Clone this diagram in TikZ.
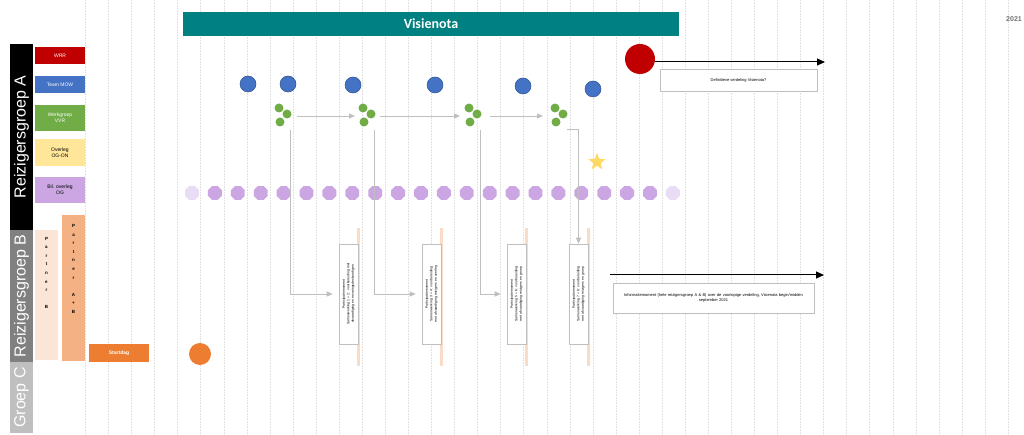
\documentclass[tikz,border=0pt]{standalone}
\usepackage{fontspec}
\setmainfont{Liberation Sans}
\newfontfamily\calibri{Carlito}
\usetikzlibrary{shapes.geometric,arrows.meta}
\definecolor{cRed}{HTML}{C00000}
\definecolor{cBlue}{HTML}{4472C4}
\definecolor{cBlueD}{HTML}{2F528F}
\definecolor{cGreen}{HTML}{70AD47}
\definecolor{cYellow}{HTML}{FFE699}
\definecolor{cPurple}{HTML}{CBA6E3}
\definecolor{cPurpleL}{HTML}{E9DDF6}
\definecolor{cPeach}{HTML}{FBE5D6}
\definecolor{cOrangeL}{HTML}{F4B183}
\definecolor{cOrange}{HTML}{ED7D31}
\definecolor{cTeal}{HTML}{008080}
\definecolor{cStar}{HTML}{FFD966}
\definecolor{cBar}{HTML}{FADBC6}
\definecolor{cGrid}{HTML}{E0E0E0}
\definecolor{cFlow}{HTML}{BFBFBF}
\tikzset{
  gridline/.style={cGrid, densely dotted, line width=0.6pt},
  grpbar/.style={inner sep=0pt, text=white, font=\fontsize{16}{16}\selectfont},
  lbl/.style={minimum width=50pt, inner sep=0pt, align=center, font=\fontsize{5}{6}\selectfont},
  bluedot/.style={circle, fill=cBlue, draw=cBlueD, line width=0.5pt, minimum size=16pt, inner sep=0pt},
  greendot/.style={circle, fill=cGreen, minimum size=9pt, inner sep=0pt},
  purpledot/.style={regular polygon, regular polygon sides=8, fill=cPurple, minimum size=15pt, inner sep=0pt},
  flow/.style={cFlow, line width=0.9pt, -{Triangle[length=6pt,width=5pt]}},
  pbox/.style={draw=cFlow, fill=white, line width=0.6pt, minimum width=19pt, minimum height=100pt, inner sep=0pt},
  ptext/.style={rotate=90, align=center, font=\fontsize{3.4}{4.4}\selectfont, text width=88pt},
  salmon/.style={fill=cBar, draw=none},
  infobox/.style={draw=cFlow, fill=white, line width=0.6pt, inner sep=0pt, align=center, font=\fontsize{4}{5}\selectfont},
  blackarrow/.style={black, line width=1pt, -{Triangle[length=8pt,width=7pt]}},
  stack/.style={align=center, inner sep=0pt, font=\fontsize{4.5}{8.6}\selectfont\bfseries}
}
\begin{document}
\begin{tikzpicture}[x=1pt,y=-1pt]
\useasboundingbox (0,0) rectangle (1024,435);
\fill[white] (0,0) rectangle (1024,435);
% grid
\foreach \i in {0,...,40} \draw[gridline] ({85.4+23.07*\i},0) -- ({85.4+23.07*\i},435);

% group bars
\node[grpbar, fill=black, minimum width=23pt, minimum height=186pt] (gA) at (21.5,137) {};
\node[grpbar, rotate=90] (gAt) at (gA) {Reizigersgroep A};
\node[grpbar, fill=black!50, minimum width=23pt, minimum height=132pt] (gB) at (21.5,296) {};
\node[grpbar, rotate=90] (gBt) at (gB) {Reizigersgroep B};
\node[grpbar, fill=black!25, minimum width=23pt, minimum height=71pt] (gC) at (21.5,397.5) {};
\node[grpbar, rotate=90] (gCt) at (gC) {Groep C};

% label boxes
\node[lbl, fill=cRed, text=white, minimum height=17pt] (wrr) at (60,55.5) {WRR};
\node[lbl, fill=cBlue, text=white, minimum height=17pt] (mow) at (60,84.5) {Team MOW};
\node[lbl, fill=cGreen, text=white, minimum height=26pt] (vvr) at (60,118) {Werkgroep\\VVR};
\node[lbl, fill=cYellow, text=black, minimum height=27pt] (ogon) at (60,152.5) {Overleg\\OG-ON};
\node[lbl, fill=cPurple, text=black, minimum height=26pt] (bil) at (60,190) {Bil. overleg\\OG};
\node[fill=cPeach, minimum width=23pt, minimum height=130pt, inner sep=0pt] (pB) at (46.5,295) {};
\node[stack] (pBt) at (46.5,273) {P\\a\\r\\t\\n\\e\\r\\\mbox{}\\B};
\node[fill=cOrangeL, minimum width=23pt, minimum height=146pt, inner sep=0pt] (pAB) at (73.5,288) {};
\node[stack] (pABt) at (73.5,269) {P\\a\\r\\t\\n\\e\\r\\\mbox{}\\A\\+\\B};
\node[lbl, fill=cOrange, text=white, minimum width=60pt, minimum height=18pt, font=\fontsize{5}{6}\selectfont\bfseries] (start) at (119,353) {Startdag};

% title
\node[fill=cTeal, text=white, minimum width=496pt, minimum height=24pt, inner sep=0pt, font=\calibri\bfseries\fontsize{14}{14}\selectfont] (visie) at (431,24) {Visienota};
\node[text=black!55, font=\fontsize{7}{7}\selectfont\bfseries, inner sep=0pt] (y2021) at (1014,19) {2021};

% blue dots
\node[bluedot] (bd1) at (248,84) {};
\node[bluedot] (bd2) at (288,84) {};
\node[bluedot] (bd3) at (353,85) {};
\node[bluedot] (bd4) at (435,85) {};
\node[bluedot] (bd5) at (523,86) {};
\node[bluedot] (bd6) at (593,89) {};

% green clusters
\foreach \n/\x in {1/279, 2/363, 3/469, 4/555} {
  \node[greendot] (g\n a) at (\x,108) {};
  \node[greendot] (g\n b) at (\x+8,114) {};
  \node[greendot] (g\n c) at (\x+1,122) {};
}
\coordinate (k1) at (283,116);
\coordinate (k2) at (367,116);
\coordinate (k3) at (473,116);
\coordinate (k4) at (559,116);
\draw[flow, shorten <=14pt, shorten >=12pt] (k1) -- (k2);
\draw[flow, shorten <=13pt, shorten >=13pt] (k2) -- (k3);
\draw[flow, shorten <=17pt, shorten >=16pt] (k3) -- (k4);

% purple dots
\foreach \i in {1,...,20} \node[purpledot] (pd\i) at ({192+22.9*\i},193) {};
\node[purpledot, fill=cPurpleL] (pd0) at (192,193) {};
\node[purpledot, fill=cPurpleL] (pd21) at ({192+22.9*21},193) {};

% star
\node[star, star points=5, star point ratio=2.3, fill=cStar, minimum size=18pt, inner sep=0pt] (star) at (597,162) {};

% salmon bars
\node[salmon, minimum width=3pt, minimum height=138pt, inner sep=0pt] (s1) at (358,297) {};
\node[salmon, minimum width=3pt, minimum height=138pt, inner sep=0pt] (s2) at (441,297) {};
\node[salmon, minimum width=3pt, minimum height=138pt, inner sep=0pt] (s3) at (526,297) {};
\node[salmon, minimum width=3pt, minimum height=138pt, inner sep=0pt] (s4) at (588,297) {};

% participation boxes
\node[pbox] (b1) at (348.5,294) {};
\node[ptext] (b1t) at (b1) {Participatiemoment\\Samenwerking 1 + 2: voorbereiding met afvaardiging en ervaringsdeskundigen};
\node[pbox] (b2) at (431.5,294) {};
\node[ptext] (b2t) at (b2) {Participatiemoment\\Samenwerking 3 + 4: voorbereiding met afvaardiging reizigers en overleg};
\node[pbox] (b3) at (516.5,294) {};
\node[ptext] (b3t) at (b3) {Participatiemoment\\Samenwerking 5 + 6: voorbereiding met afvaardiging reizigers en groep};
\node[pbox] (b4) at (578.5,294) {};
\node[ptext] (b4t) at (b4) {Participatiemoment\\Samenwerking 7 + 8: voorbereiding met afvaardiging reizigers en groep};

% elbow connectors
\coordinate (k1d) at (290,130);
\coordinate (k2d) at (374,130);
\coordinate (k3d) at (480,130);
\coordinate (k4d) at (567,129);
\draw[flow, shorten >=6pt] (k1d) |- (b1);
\draw[flow, shorten >=6pt] (k2d) |- (b2);
\draw[flow, shorten >=6pt] (k3d) |- (b3);
\draw[flow] (k4d) -| (b4);

% orange start circle
\node[circle, fill=cOrange, minimum size=22pt, inner sep=0pt] (oc) at (200,354) {};

% red circle and top arrow
\node[circle, fill=cRed, minimum size=30pt, inner sep=0pt] (rc) at (640,59) {};
\coordinate (ta) at (825,62);
\draw[blackarrow] (rc.east |- ta) -- (ta);
\node[infobox, minimum width=157pt, minimum height=22pt] (def) at (738.5,80) {Definitieve verdeling Visienota?};

% bottom arrow
\coordinate (bs) at (610,275);
\coordinate (be) at (824,275);
\draw[blackarrow] (bs) -- (be);
\node[infobox, minimum width=201pt, minimum height=30pt, text width=190pt] (info) at (713.5,298) {Informatiemoment (hele reizigersgroep A \& B) over de voorlopige verdeling, Visienota begin/midden\\september 2021};
\end{tikzpicture}
\end{document}
